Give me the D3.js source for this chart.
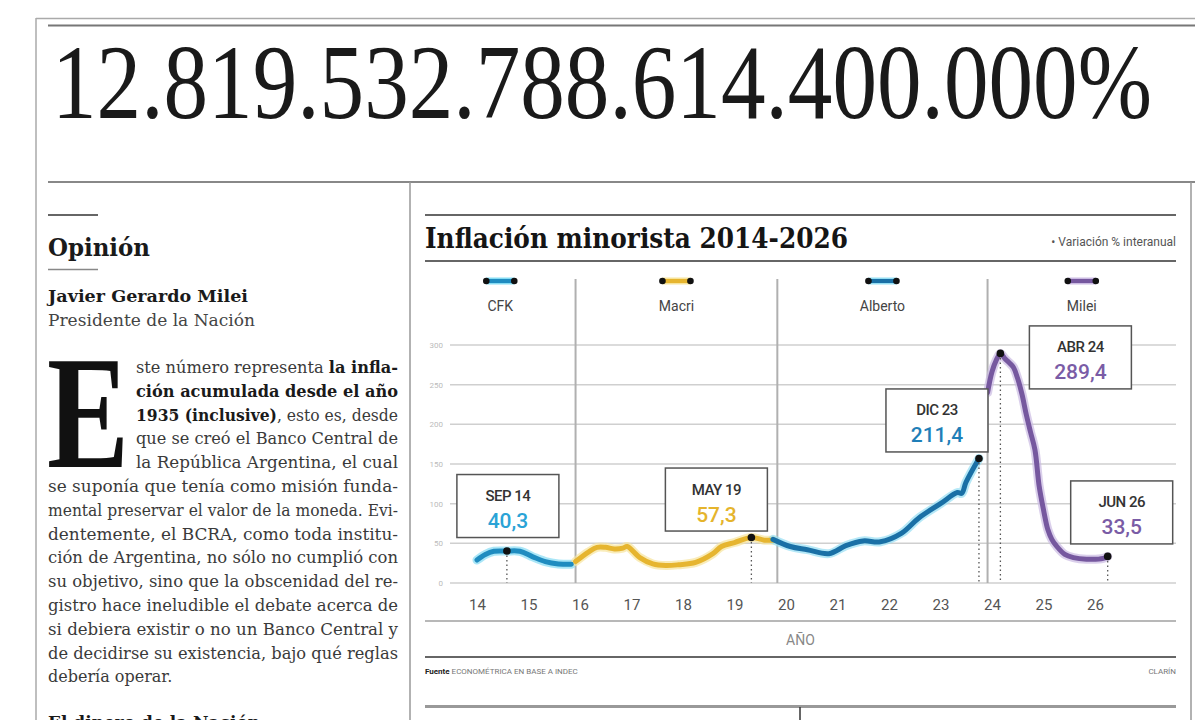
<!DOCTYPE html>
<html>
<head>
<meta charset="utf-8">
<script src="https://cdn.jsdelivr.net/npm/d3@7"></script>
<style>
  body { margin: 0; background: #fff; }
  svg { display: block; }
</style>
</head>
<body>
<div id="page"></div>
<script>
// ---- data ----
const yearTicks = ["2014", "2015", "2016", "2017", "2018", "2019", "2020", "2021", "2022", "2023", "2024", "2025", "2026"];
const valueTicks = [0, 50, 100, 150, 200, 250, 300];
const periods = ["CFK", "Macri", "Alberto", "Milei"];
const periodBreaks = ["2015-12", "2019-11", "2023-12"];

const cfkSeries = [["2014-01", 29], ["2014-03", 36], ["2014-05", 40], ["2014-08", 40.3], ["2014-11", 40],
  ["2015-02", 33], ["2015-05", 27], ["2015-08", 24], ["2015-11", 23.5]];
const macriSeries = [["2015-12", 27], ["2016-03", 39], ["2016-05", 45], ["2016-07", 45], ["2016-09", 43],
  ["2016-11", 44], ["2016-12", 46], ["2017-03", 32], ["2017-06", 24], ["2017-09", 22], ["2017-12", 23],
  ["2018-04", 26], ["2018-08", 37], ["2018-10", 46], ["2019-01", 51], ["2019-05", 57.3], ["2019-08", 54], ["2019-10", 54]];
const albertoSeries = [["2019-10", 55], ["2020-02", 46], ["2020-06", 42], ["2020-11", 37], ["2021-03", 47],
  ["2021-07", 53], ["2021-11", 52], ["2022-04", 63], ["2022-08", 82], ["2023-01", 100], ["2023-05", 114],
  ["2023-06", 113], ["2023-07", 127], ["2023-10", 157]];
const mileiSeries = [["2023-12", 240], ["2024-01", 266], ["2024-02", 281], ["2024-03", 289.4], ["2024-04", 283],
  ["2024-05", 278], ["2024-06", 272], ["2024-07", 258], ["2024-08", 238], ["2024-09", 212], ["2024-10", 190],
  ["2024-11", 168], ["2024-12", 122], ["2025-01", 92], ["2025-02", 67], ["2025-03", 55], ["2025-04", 47],
  ["2025-06", 36], ["2025-08", 32], ["2025-11", 30], ["2026-03", 31], ["2026-04", 33.5]];

const highlightDates = ["2014-08", "2019-05", "2023-10", "2024-03", "2026-04"];
const highlightLabels = ["SEP 14", "MAY 19", "DIC 23", "ABR 24", "JUN 26"];
const highlightValues = ["40,3", "57,3", "211,4", "289,4", "33,5"];
const highlightPeriod = [0, 1, 2, 3, 3];

// ---- styles / layout ----
const lineColors = ["#1f8cc0", "#e6b530", "#1a70a6", "#76589f"];
const haloColors = ["#86dcf3", "#f7e49c", "#95def3", "#cbbbe2"];
const labelColors = ["#2aa3d6", "#e5b42c", "#1f7fb8", "#7a5ca6"];
const boxOffsets = [[1, -45], [-35, -38], [-42, -38], [80, 4], [14, -44]];
const serif = "'Liberation Serif', 'DejaVu Serif', serif";
const heavySerif = "'DejaVu Serif', 'Liberation Serif', serif";
const sans = "Roboto, 'Liberation Sans', sans-serif";

const W = 1195, H = 720;
const panel = { left: 425, right: 1176 };
const plot = { top: 345, bottom: 583 };

const svg = d3.select("#page").append("svg").attr("width", W).attr("height", H);

function hline(x1, x2, yy, color, w) {
  svg.append("line").attr("x1", x1).attr("x2", x2).attr("y1", yy).attr("y2", yy)
    .attr("stroke", color).attr("stroke-width", w);
}
function vline(xx, y1, y2, color, w) {
  svg.append("line").attr("x1", xx).attr("x2", xx).attr("y1", y1).attr("y2", y2)
    .attr("stroke", color).attr("stroke-width", w);
}

// ---- page frame ----
hline(36, W, 18.5, "#aaa", 1.5);
vline(36, 18, H, "#aaa", 1.5);
hline(48, W, 25.5, "#777", 2);
hline(48, W, 182, "#888", 2);
vline(410, 182, H, "#999", 1.5);
vline(1191, 182, H, "#999", 1.5);

// big headline number: tall, narrow lining figures
svg.append("text").attr("transform", "translate(52,118) scale(1,1.2)")
  .attr("font-family", serif).attr("font-size", 89).attr("fill", "#1a1a1a")
  .attr("textLength", 1100).attr("lengthAdjust", "spacingAndGlyphs")
  .text("12.819.532.788.614.400.000%");

// ---- opinion column ----
hline(48, 98, 215, "#333", 1.5);
svg.append("text").attr("x", 48).attr("y", 256).attr("font-family", heavySerif).attr("font-weight", 700)
  .attr("font-size", 25).attr("fill", "#1a1a1a").attr("textLength", 102).attr("lengthAdjust", "spacingAndGlyphs")
  .text("Opinión");
hline(48, 98, 269.5, "#888", 1.5);
svg.append("text").attr("x", 48).attr("y", 302).attr("font-family", heavySerif).attr("font-weight", 700)
  .attr("font-size", 17).attr("fill", "#1a1a1a").attr("textLength", 200).attr("lengthAdjust", "spacingAndGlyphs")
  .text("Javier Gerardo Milei");
svg.append("text").attr("x", 48).attr("y", 326).attr("font-family", heavySerif)
  .attr("font-size", 16.5).attr("fill", "#444").attr("textLength", 207).attr("lengthAdjust", "spacingAndGlyphs")
  .text("Presidente de la Nación");

svg.append("text").attr("x", 47).attr("y", 467).attr("font-family", serif).attr("font-weight", 700)
  .attr("font-size", 160).attr("fill", "#111").attr("textLength", 82).attr("lengthAdjust", "spacingAndGlyphs")
  .text("E");

const bodyLines = [
  [["ste número representa ", 0], ["la infla-", 1]],
  [["ción acumulada desde el año", 1]],
  [["1935 (inclusive)", 1], [", esto es, desde", 0]],
  [["que se creó el Banco Central de", 0]],
  [["la República Argentina, el cual", 0]],
  [["se suponía que tenía como misión funda-", 0]],
  [["mental preservar el valor de la moneda. Evi-", 0]],
  [["dentemente, el BCRA, como toda institu-", 0]],
  [["ción de Argentina, no sólo no cumplió con", 0]],
  [["su objetivo, sino que la obscenidad del re-", 0]],
  [["gistro hace ineludible el debate acerca de", 0]],
  [["si debiera existir o no un Banco Central y", 0]],
  [["de decidirse su existencia, bajo qué reglas", 0]],
  [["debería operar.", 0]]
];
bodyLines.forEach((parts, i) => {
  const x0 = i < 5 ? 136 : 48;
  const t = svg.append("text").attr("x", x0).attr("y", 373 + i * 23.8)
    .attr("font-family", heavySerif).attr("font-size", 16).attr("fill", "#3a3a3a");
  if (i < bodyLines.length - 1) t.attr("textLength", 398 - x0).attr("lengthAdjust", "spacingAndGlyphs");
  parts.forEach(([s, b]) => {
    t.append("tspan").attr("font-weight", b ? 700 : 400).attr("fill", b ? "#1a1a1a" : "#3a3a3a").text(s);
  });
});
svg.append("text").attr("x", 48).attr("y", 728).attr("font-family", heavySerif).attr("font-weight", 700)
  .attr("font-size", 17).attr("fill", "#1a1a1a").text("El dinero de la Nación");

// ---- chart panel ----
hline(panel.left, panel.right, 215, "#666", 2);
hline(panel.left, panel.right, 261, "#666", 2);
svg.append("text").attr("x", panel.left).attr("y", 248).attr("font-family", heavySerif).attr("font-weight", 700)
  .attr("font-size", 27).attr("fill", "#151515").attr("textLength", 423).attr("lengthAdjust", "spacingAndGlyphs")
  .text("Inflación minorista 2014-2026");
svg.append("text").attr("x", panel.right).attr("y", 246).attr("text-anchor", "end")
  .attr("font-family", sans).attr("font-size", 12).attr("fill", "#555")
  .text("• Variación % interanual");

const parse = d3.timeParse("%Y-%m");
const x = d3.scaleTime().domain([parse("2014-01"), parse("2026-01")]).range([477, 1095]);
const y = d3.scaleLinear().domain([0, 300]).range([plot.bottom, plot.top]);

// grid
svg.append("g").selectAll("line").data(valueTicks).join("line")
  .attr("x1", 450).attr("x2", panel.right)
  .attr("y1", d => y(d)).attr("y2", d => y(d))
  .attr("stroke", "#cfcfcf").attr("stroke-width", 1.5);

const yAxis = svg.append("g").attr("transform", "translate(450,0)")
  .call(d3.axisLeft(y).tickValues(valueTicks).tickSize(0).tickPadding(7));
yAxis.select(".domain").remove();
yAxis.selectAll("text").attr("font-family", sans).attr("font-size", 8).attr("fill", "#bbb");

const xAxis = svg.append("g").attr("transform", `translate(0,${plot.bottom})`)
  .call(d3.axisBottom(x).tickValues(yearTicks.map(d => d3.timeParse("%Y")(d)))
    .tickFormat(d3.timeFormat("%y")).tickSize(0).tickPadding(16));
xAxis.select(".domain").remove();
xAxis.selectAll("text").attr("font-family", sans).attr("font-size", 15).attr("fill", "#555");

// period separators and legend
const breakX = periodBreaks.map(d => x(parse(d)));
svg.append("g").selectAll("line").data(breakX).join("line")
  .attr("x1", d => d).attr("x2", d => d).attr("y1", 279).attr("y2", plot.bottom)
  .attr("stroke", "#b0b0b0").attr("stroke-width", 2);

const bounds = [panel.left, ...breakX, panel.right];
const legend = svg.append("g").selectAll("g").data(periods).join("g")
  .attr("transform", (d, i) => `translate(${(bounds[i] + bounds[i + 1]) / 2},0)`);
legend.append("line").attr("x1", -14).attr("x2", 14).attr("y1", 281).attr("y2", 281)
  .attr("stroke", (d, i) => haloColors[i]).attr("stroke-width", 7);
legend.append("line").attr("x1", -14).attr("x2", 14).attr("y1", 281).attr("y2", 281)
  .attr("stroke", (d, i) => lineColors[i]).attr("stroke-width", 4);
legend.selectAll("circle").data([-14, 14]).join("circle")
  .attr("cx", d => d).attr("cy", 281).attr("r", 3.3).attr("fill", "#111");
legend.append("text").attr("y", 311).attr("text-anchor", "middle")
  .attr("font-family", sans).attr("font-size", 14).attr("fill", "#444").text(d => d);

// lines
const allSeries = [cfkSeries, macriSeries, albertoSeries, mileiSeries];
const line = d3.line().x(d => x(parse(d[0]))).y(d => y(d[1])).curve(d3.curveCatmullRom.alpha(0.5));
const lines = svg.append("g").attr("fill", "none").attr("stroke-linecap", "round").attr("stroke-linejoin", "round");
allSeries.forEach((s, i) => {
  lines.append("path").attr("d", line(s)).attr("stroke", haloColors[i]).attr("stroke-width", 9).attr("opacity", 0.7);
});
allSeries.forEach((s, i) => {
  lines.append("path").attr("d", line(s)).attr("stroke", lineColors[i]).attr("stroke-width", 5);
});

// highlights
const highlights = highlightDates.map((d, i) => {
  const s = allSeries[highlightPeriod[i]].find(p => p[0] === d);
  return { date: parse(d), value: s[1], label: highlightLabels[i], text: highlightValues[i], period: highlightPeriod[i], off: boxOffsets[i] };
});
svg.append("g").selectAll("line").data(highlights).join("line")
  .attr("x1", d => x(d.date)).attr("x2", d => x(d.date))
  .attr("y1", d => y(d.value)).attr("y2", plot.bottom)
  .attr("stroke", "#555").attr("stroke-width", 1.3).attr("stroke-dasharray", "1.5,3");
svg.append("g").selectAll("circle").data(highlights).join("circle")
  .attr("cx", d => x(d.date)).attr("cy", d => y(d.value)).attr("r", 3.8).attr("fill", "#111");

const boxes = svg.append("g").selectAll("g").data(highlights).join("g")
  .attr("transform", d => `translate(${x(d.date) + d.off[0]},${y(d.value) + d.off[1]})`);
boxes.append("rect").attr("x", -51).attr("y", -31.5).attr("width", 102).attr("height", 63)
  .attr("fill", "#fff").attr("stroke", "#555").attr("stroke-width", 1.5);
boxes.append("text").attr("y", -5).attr("text-anchor", "middle")
  .attr("font-family", sans).attr("font-size", 15).attr("font-weight", 500).attr("fill", "#333")
  .attr("letter-spacing", -0.5).text(d => d.label);
boxes.append("text").attr("y", 22).attr("text-anchor", "middle")
  .attr("font-family", sans).attr("font-size", 21).attr("font-weight", 500)
  .attr("fill", d => labelColors[d.period]).text(d => d.text);

// footer of the chart
hline(panel.left, panel.right, 621, "#a0a0a0", 1.5);
svg.append("text").attr("x", (panel.left + panel.right) / 2).attr("y", 645).attr("text-anchor", "middle")
  .attr("font-family", sans).attr("font-size", 14).attr("fill", "#888").text("AÑO");
hline(panel.left, panel.right, 657, "#666", 2);
const src = svg.append("text").attr("x", panel.left).attr("y", 674)
  .attr("font-family", sans).attr("font-size", 8).attr("fill", "#777");
src.append("tspan").attr("font-weight", 700).attr("fill", "#222").text("Fuente ");
src.append("tspan").text("ECONOMÉTRICA EN BASE A INDEC");
svg.append("text").attr("x", panel.right).attr("y", 674).attr("text-anchor", "end")
  .attr("font-family", sans).attr("font-size", 8).attr("fill", "#777").text("CLARÍN");
hline(panel.left, panel.right, 706.5, "#999", 3);
vline(800, 707, H, "#333", 1.5);
</script>
</body>
</html>
